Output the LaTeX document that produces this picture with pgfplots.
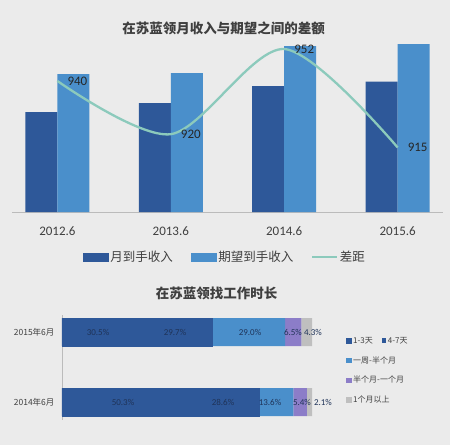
\documentclass[border=0pt]{standalone}
\usepackage{pgfplots}
\pgfplotsset{compat=1.18}
\usepackage{fontspec}
\setmainfont{Carlito}
\newfontfamily\cjk{Noto Sans CJK SC}
\definecolor{bg}{HTML}{EBEBEB}
\definecolor{darkblue}{HTML}{2E5899}
\definecolor{lightblue}{HTML}{4A8FCB}
\definecolor{tealline}{HTML}{8CCABC}
\definecolor{purp}{HTML}{8C7DC8}
\definecolor{lgray}{HTML}{BFBFBF}
\definecolor{titlegray}{HTML}{3F3F3F}
\definecolor{labelgray}{HTML}{404040}
\definecolor{axisgray}{HTML}{BBBBBB}
\definecolor{navy}{HTML}{1F3358}
\begin{document}
\begin{tikzpicture}[x=1pt,y=1pt]
\fill[bg] (0,0) rectangle (450,445);
\node[font=\cjk\bfseries\fontsize{13.5}{15}\selectfont, text=titlegray] at (223.5,417) {在苏蓝领月收入与期望之间的差额};
\node[font=\cjk\bfseries\fontsize{13.5}{15}\selectfont, text=titlegray] at (216.5,152) {在苏蓝领找工作时长};

% top bars
\begin{axis}[at={(12pt,233pt)}, anchor=south west, scale only axis,
  width=431pt, height=172pt, xmin=-0.4, xmax=3.4, ymin=0, ymax=4300,
  axis y line=none, axis x line*=bottom, axis line style={-, draw=axisgray},
  xtick={0,1,2,3}, xticklabels={2012.6,2013.6,2014.6,2015.6},
  major tick length=0pt,
  xticklabel style={font=\fontsize{13}{14}\selectfont, text=labelgray, yshift=-11pt},
  ybar=0pt, bar width=32pt, clip=false,
  legend columns=3,
  legend style={at={(0.494,-0.262)}, anchor=center, draw=none, fill=none,
    font=\cjk\fontsize{12.5}{14}\selectfont, text=labelgray,
    /tikz/every even column/.append style={column sep=16pt}},
]
\addplot[fill=darkblue, draw=none, forget plot, bar shift=-16pt] coordinates {(0,2500) (1,2725) (2,3150) (3,3262)};
\addplot[fill=lightblue, draw=none, forget plot, bar shift=16pt] coordinates {(0,3450) (1,3475) (2,4150) (3,4200)};
\addlegendimage{legend image code/.code={\fill[darkblue] (0pt,-4pt) rectangle (25pt,4pt);}}
\addlegendentry{月到手收入}
\addlegendimage{legend image code/.code={\fill[lightblue] (0pt,-4pt) rectangle (25pt,4pt);}}
\addlegendentry{期望到手收入}
\addlegendimage{legend image code/.code={\draw[tealline, line width=1.5pt] (0pt,0pt) -- (25pt,0pt);}}
\addlegendentry{差距}
\end{axis}

% top line
\begin{axis}[at={(12pt,233pt)}, anchor=south west, scale only axis,
  width=431pt, height=172pt, xmin=-0.4, xmax=3.4, ymin=890.75, ymax=955.4,
  axis lines=none, clip=false, /pgf/number format/assume math mode=true]
\addplot[smooth, tealline, line width=2.3pt, mark=none, nodes near coords,
  every node near coord/.append style={anchor=west, xshift=8pt, inner sep=1pt,
    font=\fontsize{13}{14}\selectfont, text=black!85}]
  coordinates {(0,940) (1,920) (2,952) (3,915)};
\end{axis}

% bottom stacked bars
\begin{axis}[at={(62pt,25.5pt)}, anchor=south west, scale only axis,
  width=271pt, height=105pt, xmin=0, xmax=108.4, ymin=-0.25, ymax=1.25,
  axis x line=none, axis y line*=left, axis line style={-, draw=axisgray},
  ytick={0,1}, yticklabels={2014年6月,2015年6月}, major tick length=0pt,
  yticklabel style={font=\cjk\fontsize{8.5}{10}\selectfont, text=labelgray, xshift=-4pt},
  xbar stacked, bar width=28pt,
  legend columns=1, legend cell align=left,
  legend style={at={(1.037,0.824)}, anchor=north west, draw=none, fill=none,
    font=\cjk\fontsize{8}{9}\selectfont, text=labelgray, row sep=7.5pt,
    /tikz/every odd column/.append style={column sep=0pt}},
]
\addplot[fill=darkblue, draw=darkblue, line width=0.4pt, forget plot] coordinates {(50.3,0) (30.5,1)};
\addplot[fill=darkblue, draw=darkblue, line width=0.4pt, forget plot] coordinates {(28.6,0) (29.7,1)};
\addplot[fill=lightblue, draw=none, forget plot] coordinates {(13.6,0) (29.0,1)};
\addplot[fill=purp, draw=none, forget plot] coordinates {(5.4,0) (6.5,1)};
\addplot[fill=lgray, draw=none, forget plot] coordinates {(2.1,0) (4.3,1)};
\addlegendimage{legend image code/.code={\fill[darkblue] (0pt,-2.3pt) rectangle (4.6pt,2.3pt);}}
\addlegendentry{1-3天\hspace{9pt}{\color{darkblue}\rule[0.3pt]{4.6pt}{4.6pt}}\hspace{1.5pt}4-7天}
\addlegendimage{legend image code/.code={\fill[lightblue] (0pt,-2.3pt) rectangle (4.6pt,2.3pt);}}
\addlegendentry{一周-半个月}
\addlegendimage{legend image code/.code={\fill[purp] (0pt,-2.3pt) rectangle (4.6pt,2.3pt);}}
\addlegendentry{半个月-一个月}
\addlegendimage{legend image code/.code={\fill[lgray] (0pt,-2.3pt) rectangle (4.6pt,2.3pt);}}
\addlegendentry{1个月以上}
\end{axis}

% bottom labels
\begin{axis}[at={(62pt,25.5pt)}, anchor=south west, scale only axis,
  width=271pt, height=105pt, xmin=0, xmax=108.4, ymin=-0.25, ymax=1.25,
  axis lines=none, clip=false]
\addplot[only marks, mark=none, nodes near coords, point meta=explicit symbolic,
  nodes near coords align=center,
  every node near coord/.append style={font=\fontsize{9}{10}\selectfont, text=navy, inner sep=0pt}]
  coordinates {(14.4,1) [30.5\%] (45.2,1) [29.7\%] (75.2,1) [29.0\%] (92.4,1) [6.5\%] (100.4,1) [4.3\%]
               (24.4,0) [50.3\%] (64.4,0) [28.6\%] (83.2,0) [13.6\%] (96,0) [5.4\%] (104.4,0) [2.1\%]};
\end{axis}
\end{tikzpicture}
\end{document}
